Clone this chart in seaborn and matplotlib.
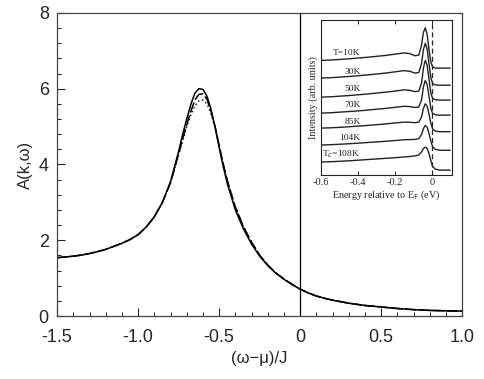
import numpy as np
import pandas as pd
import matplotlib
matplotlib.use('Agg')
import matplotlib.pyplot as plt
import seaborn as sns

sns.set_style('ticks')
plt.rcParams['font.family'] = ['Liberation Sans', 'DejaVu Sans']
plt.rcParams['axes.unicode_minus'] = False

# main panel: spectral function, three curves
omega = [-1.5, -1.45, -1.4, -1.35, -1.3, -1.25, -1.2, -1.15, -1.1, -1.05,
         -1.0, -0.95, -0.9, -0.85, -0.8, -0.775, -0.75, -0.725, -0.7, -0.675,
         -0.65, -0.625, -0.6, -0.575, -0.55, -0.525, -0.5, -0.475, -0.45, -0.4,
         -0.35, -0.3, -0.25, -0.2, -0.15, -0.1, -0.05, 0.0, 0.05, 0.1,
         0.15, 0.2, 0.3, 0.4, 0.5, 0.6, 0.7, 0.8, 0.9, 1.0]
a_solid = [1.54, 1.56, 1.58, 1.61, 1.65, 1.70, 1.76, 1.84, 1.92, 2.02,
           2.15, 2.35, 2.62, 3.00, 3.55, 3.95, 4.35, 4.80, 5.20, 5.58,
           5.88, 6.00, 5.98, 5.80, 5.45, 4.98, 4.45, 3.95, 3.50, 2.80,
           2.30, 1.90, 1.58, 1.33, 1.13, 0.97, 0.83, 0.71, 0.61, 0.53,
           0.47, 0.42, 0.34, 0.28, 0.24, 0.20, 0.17, 0.15, 0.14, 0.13]
a_dashed = [1.54, 1.56, 1.58, 1.61, 1.65, 1.70, 1.76, 1.84, 1.92, 2.02,
            2.15, 2.35, 2.62, 3.00, 3.52, 3.90, 4.28, 4.68, 5.05, 5.40,
            5.70, 5.85, 5.86, 5.72, 5.40, 5.00, 4.50, 4.02, 3.58, 2.88,
            2.36, 1.95, 1.61, 1.35, 1.14, 0.98, 0.84, 0.71, 0.61, 0.53,
            0.47, 0.42, 0.34, 0.28, 0.24, 0.20, 0.17, 0.15, 0.14, 0.13]
a_dotted = [1.54, 1.56, 1.58, 1.61, 1.65, 1.70, 1.76, 1.84, 1.92, 2.02,
            2.15, 2.35, 2.62, 3.00, 3.52, 3.88, 4.25, 4.63, 5.00, 5.30,
            5.55, 5.68, 5.70, 5.60, 5.33, 4.97, 4.50, 4.02, 3.58, 2.88,
            2.36, 1.95, 1.61, 1.35, 1.14, 0.98, 0.84, 0.71, 0.61, 0.53,
            0.47, 0.42, 0.34, 0.28, 0.24, 0.20, 0.17, 0.15, 0.14, 0.13]

x_ticks = [-1.5, -1.0, -0.5, 0.0, 0.5, 1.0]
x_ticklabels = ['-1.5', '-1.0', '-0.5', '0', '0.5', '1.0']
y_ticks = [0, 2, 4, 6, 8]

# inset: ARPES spectra at several temperatures
energy = [-0.6, -0.55, -0.5, -0.45, -0.4, -0.35, -0.3, -0.25, -0.2, -0.15,
          -0.12, -0.09, -0.07, -0.055, -0.045, -0.035, -0.025, -0.015, -0.005,
          0.005, 0.02, 0.04, 0.07, 0.1]
temp_labels = ['T=10K', '30K', '50K', '70K', '85K', '104K', 'T$_c$=108K']
label_y = [7.9, 6.65, 5.55, 4.5, 3.4, 2.4, 1.35]
spectra = [
    [7.40, 7.42, 7.46, 7.50, 7.55, 7.60, 7.66, 7.72, 7.80, 7.88, 7.84, 7.70,
     7.74, 8.40, 9.20, 9.50, 9.10, 8.10, 7.30, 6.98, 6.90, 6.90, 6.90, 6.90],
    [6.26, 6.28, 6.32, 6.36, 6.41, 6.46, 6.52, 6.58, 6.66, 6.74, 6.70, 6.58,
     6.62, 7.20, 8.10, 8.50, 8.15, 7.20, 6.30, 5.90, 5.82, 5.80, 5.80, 5.80],
    [5.03, 5.05, 5.09, 5.13, 5.18, 5.23, 5.29, 5.35, 5.42, 5.50, 5.47, 5.38,
     5.42, 5.95, 6.90, 7.40, 7.10, 6.20, 5.30, 4.95, 4.86, 4.84, 4.84, 4.84],
    [4.00, 4.02, 4.06, 4.10, 4.14, 4.19, 4.25, 4.30, 4.37, 4.44, 4.42, 4.36,
     4.40, 4.85, 5.70, 6.10, 5.85, 5.10, 4.30, 3.97, 3.89, 3.87, 3.87, 3.87],
    [3.03, 3.05, 3.08, 3.12, 3.16, 3.20, 3.25, 3.30, 3.36, 3.42, 3.41, 3.38,
     3.42, 3.75, 4.30, 4.60, 4.45, 3.95, 3.35, 2.98, 2.84, 2.80, 2.80, 2.80],
    [1.94, 1.96, 1.99, 2.02, 2.06, 2.10, 2.14, 2.18, 2.23, 2.28, 2.29, 2.30,
     2.35, 2.62, 3.00, 3.20, 3.10, 2.70, 2.20, 1.82, 1.66, 1.61, 1.60, 1.60],
    [0.84, 0.86, 0.89, 0.92, 0.96, 1.00, 1.04, 1.08, 1.12, 1.17, 1.20, 1.24,
     1.30, 1.50, 1.72, 1.80, 1.72, 1.40, 0.95, 0.55, 0.38, 0.33, 0.32, 0.32],
]
inset_xticks = [-0.6, -0.4, -0.2, 0.0]
inset_xticklabels = ['-0.6', '-0.4', '-0.2', '0']
serif = ['Liberation Serif', 'DejaVu Serif']

fig = plt.figure(figsize=(4.84, 3.79), dpi=100)
ax = fig.add_axes([0.118, 0.166, 0.837, 0.800])

sns.lineplot(x=omega, y=a_solid, ax=ax, color='black', lw=1.1)
sns.lineplot(x=omega, y=a_dashed, ax=ax, color='black', lw=1.1)
ax.lines[-1].set_dashes((7, 2))
sns.lineplot(x=omega, y=a_dotted, ax=ax, color='black', lw=1.0)
ax.lines[-1].set_linestyle((0, (1, 2)))
ax.axvline(0, color='black', lw=0.9)

ax.set_xlim(-1.5, 1.0)
ax.set_ylim(0, 8)
ax.set_xticks(x_ticks)
ax.set_xticklabels(x_ticklabels)
ax.set_yticks(y_ticks)
ax.set_xticks(np.arange(-1.5, 1.001, 0.1), minor=True)
ax.set_yticks(np.arange(0, 8.001, 0.4), minor=True)
ax.tick_params(which='major', direction='in', length=6, width=0.8,
               labelsize=13, top=False, right=False)
ax.tick_params(axis='x', which='major', pad=9)
ax.tick_params(axis='y', which='major', pad=6)
ax.tick_params(which='minor', direction='in', length=3, width=0.8,
               top=False, right=False)
for s in ax.spines.values():
    s.set_linewidth(0.9)
    s.set_color('#444444')
ax.set_xlabel('(\u03c9\u2212\u03bc)/J', fontsize=12, labelpad=4)
ax.set_ylabel('A(k,\u03c9)', fontsize=12, labelpad=4)

# inset panel
ins = fig.add_axes([0.663, 0.538, 0.271, 0.409])
for vals in spectra:
    sns.lineplot(x=energy, y=vals, ax=ins, color='#222222', lw=1.0)
ins.axvline(0.0, color='#222222', lw=0.9, ls=(0, (4, 2.5)))
for lab, yy in zip(temp_labels, label_y):
    ins.text(-0.385, yy, lab, ha='right', va='center', fontsize=6.8,
             family=serif, color='#222222')
ins.set_xlim(-0.6, 0.11)
ins.set_ylim(0, 10)
ins.set_xticks(inset_xticks)
ins.set_xticklabels(inset_xticklabels, family=serif)
ins.set_yticks([])
ins.tick_params(direction='in', length=3, width=0.7, labelsize=7.5, pad=2,
                top=True)
for s in ins.spines.values():
    s.set_linewidth(0.8)
    s.set_color('#222222')
ins.set_xlabel('Energy relative to E$_{\\rm F}$ (eV)', fontsize=7.3,
               family=serif, labelpad=1)
ins.set_ylabel('Intensity (arb. units)', fontsize=7.3, family=serif,
               labelpad=2)

fig.savefig('out.png', dpi=100)
